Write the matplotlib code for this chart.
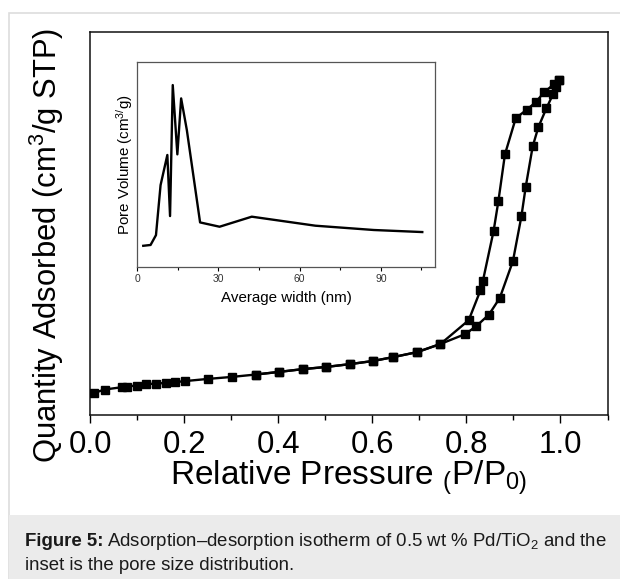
import matplotlib
matplotlib.use("Agg")
import matplotlib.pyplot as plt
from matplotlib.patches import Rectangle
from matplotlib.ticker import MultipleLocator

plt.rcParams['font.family'] = ['Liberation Sans', 'DejaVu Sans']
plt.rcParams['mathtext.fontset'] = 'custom'
plt.rcParams['mathtext.rm'] = 'Liberation Sans'
plt.rcParams['mathtext.it'] = 'Liberation Sans:italic'
plt.rcParams['mathtext.bf'] = 'Liberation Sans:bold'

# Isotherm, adsorption branch (P/P0, quantity in arbitrary units)
ads_p = [0.009, 0.031, 0.069, 0.078, 0.099, 0.12, 0.141, 0.162, 0.181, 0.201,
         0.25, 0.301, 0.352, 0.401, 0.452, 0.502, 0.552, 0.602, 0.644, 0.695,
         0.745, 0.798, 0.821, 0.848, 0.871, 0.899, 0.917, 0.926, 0.941, 0.953,
         0.970, 0.984, 0.991, 0.997]
ads_q = [10.8, 12.5, 13.7, 14.0, 14.5, 15.2, 15.5, 15.8, 16.2, 16.7,
         17.8, 18.8, 20.0, 21.3, 22.7, 23.8, 25.2, 26.8, 28.7, 31.2,
         35.3, 40.3, 44.2, 50.0, 58.3, 76.8, 99.2, 113.7, 134.2, 143.8,
         153.2, 160.2, 163.8, 167.5]

# desorption branch
des_p = [0.997, 0.987, 0.965, 0.947, 0.928, 0.905, 0.882, 0.868, 0.858, 0.835,
         0.830, 0.805, 0.745, 0.695, 0.644, 0.602, 0.552, 0.502, 0.452, 0.401, 0.352]
des_q = [167.5, 165.5, 161.2, 156.2, 152.5, 148.3, 130.2, 106.7, 92.0, 66.7,
         62.2, 47.2, 35.3, 31.2, 28.7, 26.8, 25.2, 23.8, 22.7, 21.3, 20.0]

# Inset: pore size distribution
width_nm = [2.2, 4.9, 6.9, 8.6, 11.1, 12.1, 13.1, 14.8, 16.2, 18.3,
            23.2, 30.4, 42.3, 65.8, 87.4, 105.3]
pore_vol = [0.102, 0.106, 0.154, 0.398, 0.545, 0.247, 0.886, 0.548, 0.821, 0.667,
            0.216, 0.195, 0.244, 0.200, 0.179, 0.169]

W, H = 620, 579
fig = plt.figure(figsize=(W / 100, H / 100), dpi=100)

# journal page frame and caption box
fig.patches.append(Rectangle((8.5 / W, 0), 1, 1 - 12.7 / H, transform=fig.transFigure,
                             facecolor='white', edgecolor='#dddddd', linewidth=1.2, zorder=-10))
fig.patches.append(Rectangle((8.5 / W, 0), 1, 1 - 515 / H, transform=fig.transFigure,
                             facecolor='#ebebeb', edgecolor='none', zorder=-9))

# main axes
ax = fig.add_axes([90 / W, 1 - 414.5 / H, 517.5 / W, 383 / H])
ax.plot(ads_p, ads_q, color='black', lw=1.7, marker='s', ms=6.2, zorder=3)
ax.plot(des_p, des_q, color='black', lw=1.7, marker='s', ms=6.2, zorder=3)
ax.set_xlim(0, 1.1)
ax.set_ylim(0, 191.7)
ax.set_yticks([])
ax.xaxis.set_minor_locator(MultipleLocator(0.1))
ax.set_xticks([0.0, 0.2, 0.4, 0.6, 0.8, 1.0])
ax.set_xticklabels(['0.0', '0.2', '0.4', '0.6', '0.8', '1.0'])
ax.tick_params(axis='x', which='major', direction='out', length=6, width=1, labelsize=22.5, pad=5)
ax.tick_params(axis='x', which='minor', direction='out', length=3.5, width=1)
for s in ax.spines.values():
    s.set_linewidth(1.1)
    s.set_color('#111111')
ax.set_xlabel(r'Relative Pressure $_{(}$P/P$_{0)}$', fontsize=24)
ax.xaxis.set_label_coords(0.5, -0.115)
ax.set_ylabel(r'Quantity Adsorbed (cm$^3$/g STP)', fontsize=22.3)
ax.yaxis.set_label_coords(-0.046, 0.443)

# inset
axin = fig.add_axes([137.3 / W, 1 - 266.7 / H, 297.7 / W, 205 / H])
axin.plot(width_nm, pore_vol, color='black', lw=1.7)
axin.set_xlim(0, 110)
axin.set_ylim(0, 1)
axin.set_yticks([])
axin.set_xticks([0, 30, 60, 90])
axin.xaxis.set_minor_locator(MultipleLocator(15))
axin.tick_params(axis='x', which='major', direction='out', length=3, width=0.8,
                 labelsize=7.5, labelcolor='#333333', pad=2)
axin.tick_params(axis='x', which='minor', direction='out', length=2, width=0.8)
for s in axin.spines.values():
    s.set_linewidth(0.9)
    s.set_color('#555555')
axin.set_xlabel('Average width (nm)', fontsize=10.9, labelpad=5)
axin.set_ylabel(r'Pore Volume (cm$^{3/}$g)', fontsize=10.9, labelpad=2)

# caption
cap_size = 13.4
t1 = fig.text(25 / W, 1 - 546 / H, 'Figure 5:', fontsize=cap_size, fontweight='bold',
              color='#1a1a1a', va='baseline')
fig.canvas.draw()
bb = t1.get_window_extent()
fig.text(bb.x1 / W + 4 / W, 1 - 546 / H,
         'Adsorption–desorption isotherm of 0.5 wt % Pd/TiO$_2$ and the',
         fontsize=cap_size, color='#1a1a1a', va='baseline')
fig.text(25 / W, 1 - 570 / H, 'inset is the pore size distribution.',
         fontsize=cap_size, color='#1a1a1a', va='baseline')

fig.savefig('out.png', dpi=100)
